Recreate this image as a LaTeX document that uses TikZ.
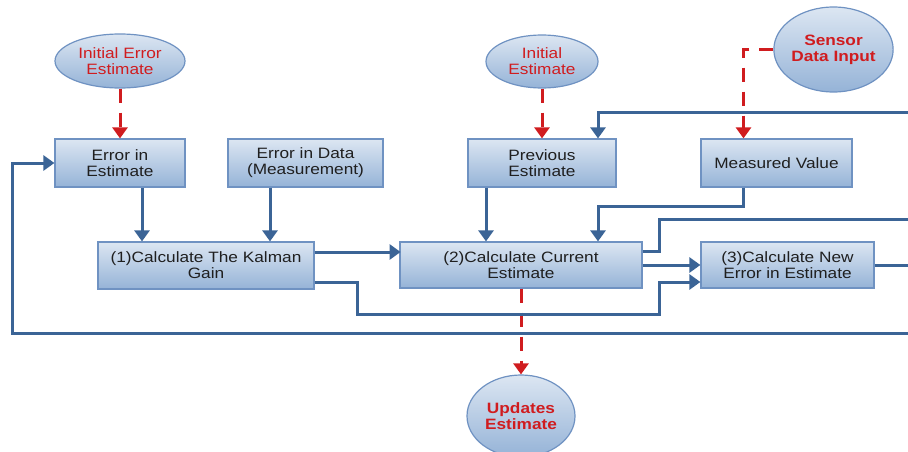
\documentclass[tikz,border=0pt]{standalone}
\usepackage{fontspec}
\setmainfont{Liberation Sans}[FakeStretch=1.15]
\usetikzlibrary{shapes.geometric,arrows.meta}
\definecolor{boxtop}{HTML}{DCE6F2}
\definecolor{boxbot}{HTML}{95B3D7}
\definecolor{boxline}{HTML}{6F92C2}
\definecolor{flowblue}{HTML}{3B6496}
\definecolor{initred}{HTML}{D01C1F}
\begin{document}
\begin{tikzpicture}[x=1pt,y=-1pt,
    txt/.style={align=center,font=\fontsize{15}{16}\selectfont,inner sep=0pt},
    block/.style={txt,draw=boxline,line width=1.2pt,top color=boxtop,bottom color=boxbot,text=black!88},
    source/.style={txt,ellipse,draw=boxline,line width=1.2pt,top color=boxtop,bottom color=boxbot,text=initred},
    flow/.style={draw=flowblue,line width=3pt,-{Triangle[width=15pt,length=11pt]}},
    link/.style={draw=flowblue,line width=3pt},
    init/.style={draw=initred,line width=3pt,dash pattern=on 14pt off 10pt,-{Triangle[width=15pt,length=11pt]}}]
    \useasboundingbox (0,0) rectangle (908,452);
    %% inputs
    \node[source,minimum width=130pt,minimum height=54pt] (iee) at (120,61) {Initial Error\\Estimate};
    \node[source,minimum width=112pt,minimum height=53pt] (ie) at (542,61.5) {Initial\\Estimate};
    \node[source,minimum width=115pt,minimum height=85pt,font=\fontsize{15}{16}\selectfont\bfseries] (sdi) at (833.5,49.5) {Sensor\\Data Input};
    \node[source,minimum width=108pt,minimum height=82pt,font=\fontsize{15}{16}\selectfont\bfseries] (upd) at (521,416) {Updates\\Estimate};
    %% values
    \node[block,minimum width=130pt,minimum height=48pt] (eie) at (120,163) {Error in\\Estimate};
    \node[block,minimum width=155pt,minimum height=48pt] (eid) at (305.5,163) {Error in Data\\(Measurement)};
    \node[block,minimum width=148pt,minimum height=48pt] (prev) at (542,163) {Previous\\Estimate};
    \node[block,minimum width=151pt,minimum height=48pt] (meas) at (776.5,163) {Measured Value};
    %% steps
    \node[block,minimum width=216pt,minimum height=47pt] (kal) at (206,265.5) {(1)Calculate The Kalman\\Gain};
    \node[block,minimum width=242pt,minimum height=46pt] (cur) at (521,265) {(2)Calculate Current\\Estimate};
    \node[block,minimum width=173pt,minimum height=46pt] (new) at (787.5,265) {(3)Calculate New\\Error in Estimate};
    %% loose ends at the right edge
    \coordinate (rin) at (908,112);
    \coordinate (rout) at (908,219);
    \coordinate (rnew) at (908,265);
    \coordinate (rback) at (908,333);
    %% initial values
    \draw[init] (iee.south) -- (eie.north);
    \draw[init] (ie.south) -- (prev.north);
    \draw[init] (sdi.west) -| ([xshift=-33pt]meas.north);
    \draw[init] (cur.south) -- (upd.north);
    %% flow
    \draw[flow] ([xshift=22pt]eie.south) -- ([xshift=-64pt]kal.north);
    \draw[flow] ([xshift=-35.5pt]eid.south) -- ([xshift=64pt]kal.north);
    \draw[flow] ([xshift=-56pt]prev.south) -- ([xshift=-35pt]cur.north);
    \draw[flow] ([xshift=-33pt]meas.south) -- ++(0,19) -| ([xshift=77pt]cur.north);
    \draw[flow] (rin) -| ([xshift=56pt]prev.north);
    \draw[flow] ([yshift=13.5pt]kal.east) -- ++(86,0);
    \draw[flow] ([yshift=-16.5pt]kal.east) -- ++(43,0) -- ++(0,32) -| ++(302,-32) -- ([yshift=-17pt]new.west);
    \draw[flow] (cur.east) -- (new.west);
    \draw[link] ([yshift=14pt]cur.east) -- ++(17,0) |- (rout);
    \draw[link] (new.east) -- (rnew);
    \draw[flow] (rback) -- ++(-896,0) |- (eie.west);
\end{tikzpicture}
\end{document}
